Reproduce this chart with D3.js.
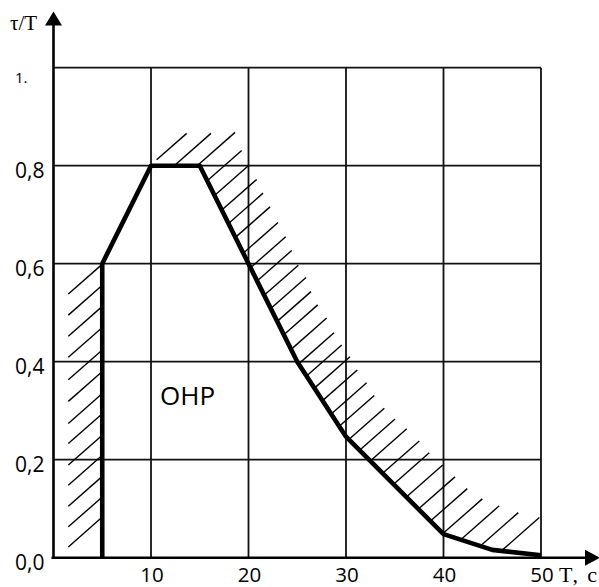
<!DOCTYPE html>
<html>
<head>
<meta charset="utf-8">
<script src="https://cdn.jsdelivr.net/npm/d3@7/dist/d3.min.js"></script>
<style>
  html, body { margin: 0; padding: 0; background: #fff; }
  svg { display: block; }
</style>
</head>
<body>
<div id="chart"></div>
<script>
// curve tau/T over T, c
var curveT = [5, 5, 10, 15, 20, 25, 30, 40, 45, 50];
var curveV = [0, 0.6, 0.8, 0.8, 0.6, 0.4, 0.247, 0.048, 0.016, 0.005];

// grid + tick labels
var xTicks = [10, 20, 30, 40, 50];
var xTickLabels = ["10", "20", "30", "40", "50"];
var yTicks = [0, 0.2, 0.4, 0.6, 0.8, 1.0];
var yTickLabels = ["0,0", "0,2", "0,4", "0,6", "0,8", "1."];

// hatching left of T=5: lower-left ends at T=1.5
var leftHatchT = 1.52;
var leftHatchV = [0.538, 0.495, 0.452, 0.409, 0.363, 0.319, 0.274, 0.233, 0.189, 0.148, 0.105, 0.063, 0.022];

// hatching above / right of the curve: upper-right ends
var rightHatchT = [13.66, 16.15, 18.62, 19.30, 19.98, 20.84, 21.49, 22.21, 23.03, 23.82, 24.43, 25.11,
    25.90, 26.41, 27.10, 28.02, 28.77, 29.56, 30.41, 31.16, 32.12, 32.90, 33.93, 35.03, 36.23,
    37.52, 38.54, 39.92, 41.18, 42.44, 43.98, 45.72, 47.67, 49.83];
var rightHatchV = [0.866, 0.866, 0.868, 0.831, 0.800, 0.772, 0.744, 0.716, 0.684, 0.655, 0.627, 0.597,
    0.572, 0.543, 0.516, 0.489, 0.459, 0.434, 0.410, 0.383, 0.357, 0.331, 0.305, 0.283, 0.263,
    0.238, 0.214, 0.189, 0.165, 0.141, 0.120, 0.106, 0.092, 0.082];

var width = 599, height = 587;

var svg = d3.select("#chart").append("svg")
    .attr("width", width)
    .attr("height", height);

var x = d3.scaleLinear().domain([0, 50]).range([53.5, 541]);
var y = d3.scaleLinear().domain([0, 1]).range([557.7, 67.7]);

//grid
svg.selectAll(".vgrid")
    .data(xTicks)
    .enter()
    .append("line")
    .attr("class", "vgrid")
    .attr("x1", function(d) { return x(d); })
    .attr("x2", function(d) { return x(d); })
    .attr("y1", y(1))
    .attr("y2", y(0))
    .attr("stroke", "#111")
    .attr("stroke-width", 1.8);

svg.selectAll(".hgrid")
    .data(yTicks.slice(1))
    .enter()
    .append("line")
    .attr("class", "hgrid")
    .attr("x1", x(0))
    .attr("x2", x(50))
    .attr("y1", function(d) { return y(d); })
    .attr("y2", function(d) { return y(d); })
    .attr("stroke", "#111")
    .attr("stroke-width", 1.8);

// curve in pixels, used to find where each hatch meets it
var pts = curveT.map(function(t, i) { return [x(t), y(curveV[i])]; });

var ang = Math.atan(0.88);
var cx = Math.cos(ang), sy = Math.sin(ang);

function hitCurve(px, py, dx, dy) {
    var best = null;
    for (var i = 0; i < pts.length - 1; i++) {
        var ax = pts[i][0], ay = pts[i][1];
        var ex = pts[i + 1][0] - ax, ey = pts[i + 1][1] - ay;
        var den = dx * ey - dy * ex;
        if (Math.abs(den) < 1e-9) continue;
        var t = ((ax - px) * ey - (ay - py) * ex) / den;
        var u = ((ax - px) * dy - (ay - py) * dx) / den;
        if (t > 0 && u >= -0.01 && u <= 1.01) {
            if (best === null || t < best) best = t;
        }
    }
    if (best === null) best = 40;
    return [px + dx * best, py + dy * best];
}

var hatches = [];
leftHatchV.forEach(function(v) {
    var p0 = [x(leftHatchT), y(v)];
    hatches.push([p0, hitCurve(p0[0], p0[1], cx, -sy)]);
});
rightHatchT.forEach(function(t, i) {
    var p0 = [x(t), y(rightHatchV[i])];
    hatches.push([p0, hitCurve(p0[0], p0[1], -cx, sy)]);
});

svg.selectAll(".hatch")
    .data(hatches)
    .enter()
    .append("line")
    .attr("class", "hatch")
    .attr("x1", function(d) { return d[0][0]; })
    .attr("y1", function(d) { return d[0][1]; })
    .attr("x2", function(d) { return d[1][0]; })
    .attr("y2", function(d) { return d[1][1]; })
    .attr("stroke", "#000")
    .attr("stroke-width", 1.4);

//thick curve
var line = d3.line()
    .x(function(d) { return x(d[0]); })
    .y(function(d) { return y(d[1]); });

svg.append("path")
    .datum(curveT.map(function(t, i) { return [t, curveV[i]]; }))
    .attr("d", line)
    .attr("fill", "none")
    .attr("stroke", "#000")
    .attr("stroke-width", 4.6)
    .attr("stroke-linejoin", "round");

//axes with arrows
svg.append("line")
    .attr("x1", x(0)).attr("x2", x(0))
    .attr("y1", y(0) + 1).attr("y2", 24)
    .attr("stroke", "#000").attr("stroke-width", 2.6);
svg.append("path")
    .attr("d", "M" + x(0) + ",11.5 L" + (x(0) - 8.5) + ",25.5 L" + (x(0) + 8.5) + ",25.5 Z")
    .attr("fill", "#000");

svg.append("line")
    .attr("x1", x(0) - 2).attr("x2", 587)
    .attr("y1", y(0)).attr("y2", y(0))
    .attr("stroke", "#000").attr("stroke-width", 2.6);
svg.append("path")
    .attr("d", "M600," + y(0) + " L585," + (y(0) - 8) + " L585," + (y(0) + 8) + " Z")
    .attr("fill", "#000");

//tick labels
svg.selectAll(".ylab")
    .data(yTicks)
    .enter()
    .append("text")
    .attr("class", "ylab")
    .attr("x", 15)
    .attr("y", function(d, i) { return y(d) + (i === 5 ? 15.3 : 12.5); })
    .attr("font-family", "'Open Sans', sans-serif")
    .attr("font-size", function(d, i) { return i === 5 ? 15 : 21; })
    .text(function(d, i) { return yTickLabels[i]; });

svg.selectAll(".xlab")
    .data(xTicks)
    .enter()
    .append("text")
    .attr("class", "xlab")
    .attr("x", function(d) { return x(d) + 1; })
    .attr("y", 582)
    .attr("text-anchor", "middle")
    .attr("font-family", "'Open Sans', sans-serif")
    .attr("font-size", 20.5)
    .text(function(d, i) { return xTickLabels[i]; });

svg.append("text")
    .attr("x", 10).attr("y", 29.5)
    .attr("font-family", "'Liberation Serif', 'Times New Roman', serif")
    .attr("font-size", 21)
    .text("τ/T");

svg.append("text")
    .attr("x", 559).attr("y", 582)
    .attr("font-family", "'Liberation Serif', 'Times New Roman', serif")
    .attr("font-size", 22)
    .attr("textLength", 38)
    .attr("lengthAdjust", "spacing")
    .text("T, c");

svg.append("text")
    .attr("x", 160).attr("y", 404.5)
    .attr("font-family", "'Open Sans', sans-serif")
    .attr("font-size", 26)
    .text("OHP");
</script>
</body>
</html>
